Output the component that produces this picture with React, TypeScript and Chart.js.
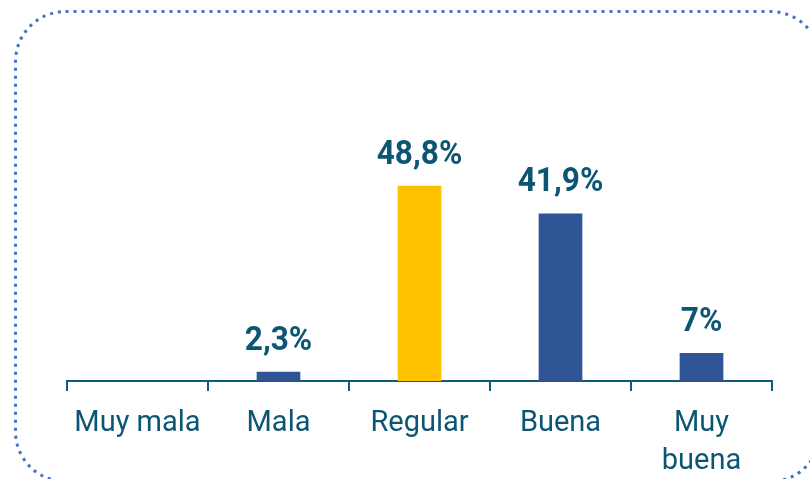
import React, { useEffect, useRef } from "react";
import { Chart, registerables } from "chart.js";

Chart.register(...registerables);

const categories: (string | string[])[] = ["Muy mala", "Mala", "Regular", "Buena", ["Muy", "buena"]];
const values: number[] = [0, 2.3, 48.8, 41.9, 7];
const valueLabels: string[] = ["", "2,3%", "48,8%", "41,9%", "7%"];
const barColors: string[] = ["#2F5597", "#2F5597", "#FFC000", "#2F5597", "#2F5597"];

const TEXT = "#0D5673";

const borderPlugin = {
  id: "dottedFrame",
  beforeDraw(chart: any) {
    const ctx = chart.ctx;
    ctx.save();
    ctx.strokeStyle = "#4472C4";
    ctx.lineWidth = 3;
    ctx.setLineDash([3, 5]);
    ctx.beginPath();
    ctx.roundRect(15.5, 11.5, 805, 470, 50);
    ctx.stroke();
    ctx.restore();
  },
};

const labelPlugin = {
  id: "valueLabels",
  afterDatasetsDraw(chart: any) {
    const ctx = chart.ctx;
    const meta = chart.getDatasetMeta(0);
    meta.data.forEach((bar: any, i: number) => {
      const t = valueLabels[i];
      if (!t) return;
      ctx.save();
      ctx.fillStyle = TEXT;
      ctx.font = "bold 34px Roboto";
      ctx.textAlign = "center";
      ctx.textBaseline = "alphabetic";
      ctx.translate(bar.x, bar.y - 22);
      ctx.scale(0.93, 1);
      ctx.fillText(t, 0, 0);
      ctx.restore();
    });
  },
};

export default function App() {
  const ref = useRef<HTMLCanvasElement>(null);
  useEffect(() => {
    if (!ref.current) return;
    const chart = new Chart(ref.current, {
      type: "bar",
      data: {
        labels: categories,
        datasets: [
          {
            data: values,
            backgroundColor: barColors,
            barPercentage: 1,
            categoryPercentage: 0.31,
          },
        ],
      },
      options: {
        responsive: false,
        animation: false,
        layout: { padding: { left: 67, right: 38, top: 141, bottom: 0 } },
        plugins: { legend: { display: false }, tooltip: { enabled: false } },
        scales: {
          y: { display: false, min: 0, max: 60 },
          x: {
            afterFit(scale: any) {
              scale.height = 98;
            },
            border: { color: "#0F5C78", width: 2 },
            grid: {
              drawOnChartArea: false,
              drawTicks: true,
              tickLength: 10,
              color: "#0F5C78",
              lineWidth: 2,
              offset: true,
            },
            ticks: {
              color: TEXT,
              font: { family: "Roboto", size: 29, lineHeight: 1.3 },
              padding: 14,
              maxRotation: 0,
              autoSkip: false,
            },
          },
        },
      },
      plugins: [borderPlugin, labelPlugin],
    });
    return () => chart.destroy();
  }, []);
  return (
    <div style={{ position: "absolute", left: 0, top: 0, width: 810, height: 479, background: "#fff" }}>
      <canvas ref={ref} width={810} height={479} style={{ display: "block" }} />
    </div>
  );
}
